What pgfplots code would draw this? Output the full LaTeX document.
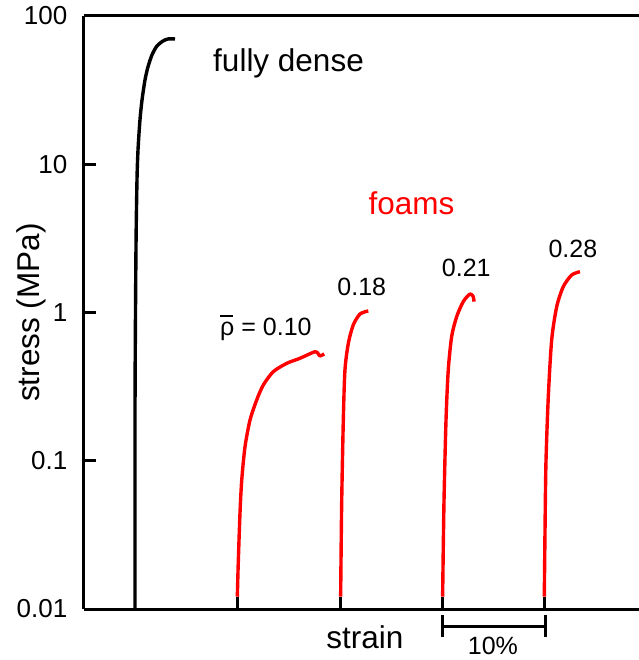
\documentclass[border=0pt]{standalone}
\usepackage{fontspec}
\setmainfont{Liberation Sans}
\usepackage{pgfplots}
\pgfplotsset{compat=1.18}
\definecolor{foamred}{RGB}{255,0,0}
\begin{document}
\begin{tikzpicture}
\begin{axis}[
 scale only axis, width=555bp, height=593bp,
 ymode=log, xmin=0, xmax=54.15, ymin=0.01, ymax=100,
 axis lines=left, axis line style={-, line width=3bp, black},
 xtick=\empty, ytick={0.01,0.1,1,10,100}, yticklabels={0.01,0.1,1,10,100},
 minor tick length=0pt,
 tick align=inside, major tick length=12bp,
 every tick/.style={black, line width=3bp},
 yticklabel style={font=\fontsize{26bp}{30bp}\selectfont, anchor=east, inner sep=0pt, xshift=-16.5bp},
 clip=false,
 every axis y label/.style={},
]
% fully dense
\addplot[black, line width=3.4bp, line join=round, smooth, tension=0.45] coordinates {
 (4.98,0.01) (4.98,0.257) (5.07,2.63) (5.17,7.83) (5.27,12.5) (5.46,19.9) (5.66,27.1)
 (5.95,37.0) (6.24,45.3) (6.63,54.6) (7.12,62.8) (7.71,67.8) (8.2,70.0) (8.88,70.0)};
% foam 0.10
\addplot[foamred, line width=3.4bp, line join=round, smooth, tension=0.45] coordinates {
 (14.96,0.0121) (15.05,0.0204) (15.22,0.0444) (15.39,0.0741) (15.71,0.1245) (16.20,0.1884)
 (16.85,0.257) (17.49,0.324) (18.47,0.399) (19.78,0.454) (21.07,0.491) (22.54,0.544)
 (22.86,0.525) (23.02,0.509) (23.44,0.525)};
% foam 0.18
\addplot[foamred, line width=3.4bp, line join=round, smooth, tension=0.45] coordinates {
 (25.04,0.0121) (25.14,0.0516) (25.30,0.188) (25.46,0.409) (25.79,0.620) (26.27,0.824)
 (26.93,0.977) (27.74,1.024)};
% foam 0.21
\addplot[foamred, line width=3.4bp, line join=round, smooth, tension=0.45] coordinates {
 (34.99,0.0121) (35.12,0.0516) (35.32,0.188) (35.54,0.409) (35.87,0.687) (36.36,0.937)
 (37.0,1.183) (37.66,1.333) (37.98,1.279) (38.05,1.183)};
% foam 0.28
\addplot[foamred, line width=3.4bp, line join=round, smooth, tension=0.45] coordinates {
 (44.91,0.0121) (44.98,0.0341) (45.07,0.0962) (45.30,0.270) (45.63,0.653) (46.12,1.094)
 (46.76,1.493) (47.58,1.79) (48.39,1.885)};
% black starts
\addplot[black, line width=3.4bp] coordinates {(14.96,0.01) (14.96,0.0121)};
\addplot[black, line width=3.4bp] coordinates {(25.04,0.01) (25.04,0.0121)};
\addplot[black, line width=3.4bp] coordinates {(34.99,0.01) (34.99,0.0121)};
\addplot[black, line width=3.4bp] coordinates {(44.91,0.01) (44.91,0.0121)};
% top line
\draw[line width=3bp] (rel axis cs:0,1) -- (rel axis cs:1,1);
% scale bar
\draw[line width=3bp] (axis cs:35,0.0076) -- (axis cs:45,0.0076);
\draw[line width=3bp] (axis cs:35,0.00911) -- (axis cs:35,0.00647);
\draw[line width=3bp] (axis cs:45,0.00911) -- (axis cs:45,0.00647);
\node[anchor=base, inner sep=0, font=\fontsize{25bp}{30bp}\selectfont] at (axis cs:39.9,0.00497) {10\%};
\node[anchor=base, inner sep=0, font=\fontsize{31.5bp}{36bp}\selectfont] at (axis cs:27.41,0.00545) {strain};
% labels
\node[anchor=base west, inner sep=0, font=\fontsize{31.5bp}{36bp}\selectfont] at (axis cs:12.59,42.1) {fully dense};
\node[anchor=base west, inner sep=0, text=foamred, font=\fontsize{31.5bp}{36bp}\selectfont] at (axis cs:27.74,4.55) {foams};
\node[anchor=base west, inner sep=0, font=\fontsize{25bp}{30bp}\selectfont] at (axis cs:13.27,0.705) {\rlap{\raisebox{0.73em}{\rule{0.5em}{0.08em}}}ρ = 0.10};
\node[anchor=base west, inner sep=0, font=\fontsize{25bp}{30bp}\selectfont] at (axis cs:24.71,1.312) {0.18};
\node[anchor=base west, inner sep=0, font=\fontsize{25bp}{30bp}\selectfont] at (axis cs:34.9,1.744) {0.21};
\node[anchor=base west, inner sep=0, font=\fontsize{25bp}{30bp}\selectfont] at (axis cs:45.3,2.357) {0.28};
\node[rotate=90, inner sep=0, font=\fontsize{31.5bp}{36bp}\selectfont] at ([xshift=-52.5bp]rel axis cs:0,0.5) {stress (MPa)};
\coordinate (O) at (rel axis cs:0,0);
\coordinate (T) at (rel axis cs:1,1);
\end{axis}
\pgfresetboundingbox
\path[use as bounding box] ([shift={(-84bp,-51bp)}]O) rectangle ([shift={(0bp,16bp)}]T);
\end{tikzpicture}
\end{document}
